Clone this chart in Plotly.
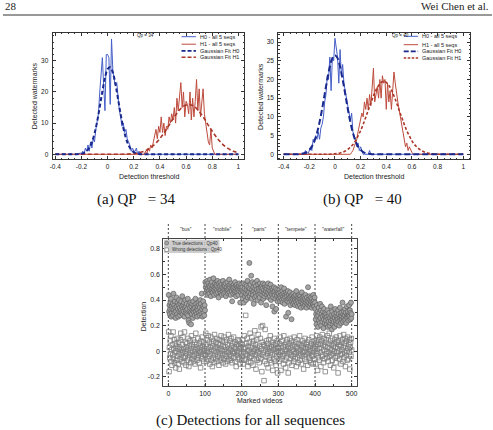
import numpy as np
import plotly.graph_objects as go

W, H = 493, 430

# ---------------- data: histograms (bin width 0.01) ----------------
A_H0_START = -0.22
A_H0 = [0, 0.5, 0, 1, 0, 2, 1, 3, 1, 4, 2, 5, 4, 8, 10, 13, 20, 25, 31, 22,
        14, 32, 32, 31, 16, 37, 27, 24, 22, 23, 18, 14, 12, 9, 10, 7, 8, 5, 4, 3,
        1, 2, 1, 1, 2, 0, 1, 0]
A_H1_START = 0.28
A_H1 = [0, 1, 0, 2, 1, 3, 2, 4, 6, 8, 5, 9, 7, 12, 7, 10, 6, 9, 8, 12,
        10, 13, 11, 15, 10, 18, 14, 19, 23, 15, 20, 12, 17, 16, 13, 20, 11, 18, 12, 17,
        24, 14, 21, 12, 18, 21, 13, 10, 7, 4, 3, 8, 2, 1, 0]
B_H0_START = -0.24
B_H0 = [0, 1, 0, 0, 1, 2, 1, 4, 3, 5, 4, 6, 4, 7, 8, 10, 14, 16, 21, 20,
        26, 17, 26, 25, 31, 29, 26, 19, 28, 21, 24, 19, 17, 15, 14, 11, 9, 11, 6, 5,
        4, 2, 3, 1, 2, 1, 0, 0, 0, 0, 0, 1, 0]
B_H1_START = 0.12
B_H1 = [0, 0.5, 1, 2, 3, 4, 6, 8, 9, 11, 10, 14, 12, 15, 12, 16, 13, 17, 23, 14,
        16, 18, 15, 20, 15, 21, 19, 20, 12, 19, 14, 17, 12, 18, 22, 19, 16, 14, 12, 10,
        8, 7, 5, 2, 3, 1, 2, 1, 0.5, 0]

# ---------------- data: Gaussian fits (sampled every 0.02) ----------------
A_FIT0_START = -0.24
A_FIT0 = [0.02, 0.07, 0.19, 0.46, 1.02, 2.08, 3.9, 6.7, 10.5, 15.2,
          20.2, 24.5, 27.3, 27.9, 26.2, 22.5, 17.7, 12.8, 8.5, 5.2,
          2.9, 1.48, 0.69, 0.30, 0.12, 0.04]
A_FIT1_START = 0.10
A_FIT1 = [0.03, 0.04, 0.07, 0.10, 0.16, 0.24, 0.36, 0.52, 0.74, 1.02,
          1.40, 1.88, 2.48, 3.20, 4.06, 5.06, 6.18, 7.40, 8.70, 10.0,
          11.4, 12.6, 13.7, 14.7, 15.4, 15.8, 16.0, 15.8, 15.4, 14.7,
          13.7, 12.6, 11.4, 10.0, 8.7, 7.4, 6.2, 5.1, 4.1, 3.2,
          2.5, 1.9, 1.4, 1.0, 0.74, 0.52]
B_FIT0_START = -0.28
B_FIT0 = [0.06, 0.13, 0.29, 0.60, 1.17, 2.1, 3.6, 5.7, 8.6, 12.1,
          16.1, 20.0, 23.4, 25.7, 26.5, 25.7, 23.4, 20.0, 16.1, 12.1,
          8.6, 5.7, 3.6, 2.1, 1.17, 0.60, 0.29, 0.13, 0.06]
B_FIT1_START = -0.02
B_FIT1 = [0.08, 0.13, 0.22, 0.35, 0.56, 0.86, 1.3, 1.9, 2.6, 3.6,
          4.9, 6.3, 8.0, 9.9, 11.8, 13.8, 15.6, 17.2, 18.4, 19.2,
          19.5, 19.2, 18.4, 17.2, 15.6, 13.8, 11.8, 9.9, 8.0, 6.3,
          4.9, 3.6, 2.6, 1.9, 1.3, 0.86, 0.56, 0.35, 0.22, 0.13, 0.08]

# ---------------- data: detections per marked video (x 0.01) ----------------
SEQUENCES = ['"bus"', '"mobile"', '"paris"', '"tempete"', '"waterfall"']
TRUE_DET = {
    "bus": [44,31,36,29,33,38,41,27,35,30, 33,37,28,45,32,36,30,39,34,26,
            31,42,35,29,38,33,27,36,40,31, 34,28,37,32,39,30,35,43,29,33,
            36,31,38,27,34,40,30,35,32,37, 29,33,41,28,24,36,22,31,34,38,
            30,21,35,29,37,32,26,39,33,30, 36,28,34,41,31,37,29,33,27,35,
            32,38,30,36,28,34,40,31,37,29, 45,33,27,35,39,30,34,28,36,32],
    "mobile": [54,50,46,52,48,55,44,49,53,47, 51,45,50,56,48,43,52,47,54,49,
               46,51,57,48,44,50,53,47,49,52, 45,51,48,55,46,50,42,53,49,47,
               51,54,46,48,52,44,50,47,55,49, 45,52,48,51,46,53,43,49,50,47,
               54,48,45,51,49,56,46,50,52,44, 48,53,47,39,51,49,45,52,48,50,
               46,54,47,51,43,49,52,46,50,48, 44,51,47,53,49,38,50,46,52,48],
    "paris": [44,50,41,47,53,38,46,49,43,52, 45,40,48,51,44,55,42,47,50,46,
              69,43,49,52,45,59,41,48,54,46, 44,50,37,47,53,42,49,45,51,43,
              48,55,40,46,52,44,49,47,42,53, 45,50,38,47,51,44,49,53,41,46,
              48,43,52,45,50,47,36,49,44,51, 46,53,42,48,45,50,43,47,52,40,
              45,49,44,35,48,42,46,50,31,44, 47,41,49,33,45,43,48,39,46,42],
    "tempete": [45,41,48,43,39,46,42,50,44,40, 47,38,43,45,41,49,37,44,42,46,
                27,40,45,43,39,47,30,41,44,38, 42,46,36,43,40,25,44,39,41,37,
                45,42,38,43,40,36,44,39,47,41, 37,43,40,35,42,38,44,41,36,43,
                39,34,41,46,38,42,37,40,35,43, 39,41,36,44,38,40,34,42,37,39,
                50,36,41,38,43,35,40,37,42,39, 34,41,38,36,44,37,40,35,42,38],
    "waterfall": [33,25,29,21,36,27,31,19,28,34, 24,30,22,37,26,32,20,29,35,23,
                  27,31,18,25,33,28,22,30,26,24, 29,21,27,32,19,25,23,28,30,20,
                  26,22,35,24,28,17,31,25,21,27, 23,29,19,26,33,22,28,24,30,21,
                  27,25,32,23,29,20,26,34,24,28, 22,30,25,27,38,23,29,26,31,24,
                  28,33,25,30,22,27,35,26,29,31, 24,28,36,27,32,25,30,38,26,29],
}
WRONG_DET = {
    "bus": [15,-16,3,-5,8,-2,12,-8,1,-11, 5,-3,15,-6,2,9,-9,-1,6,-13,
            0,4,-7,10,-4,2,-10,7,-2,-14, 3,-6,9,14,-3,1,-8,5,-1,11,
            -5,2,-9,15,0,-4,7,-11,3,-2, 6,-7,1,10,-5,-12,4,-3,8,-1,
            -9,2,12,-6,5,-3,0,9,-8,3, -4,7,-10,1,14,-2,5,-7,2,-5,
            10,-3,0,-9,6,-1,3,-13,8,-4, 1,11,-6,4,-2,7,-8,2,0,-3],
    "mobile": [-3,14,5,-8,2,-1,9,-6,12,0, -4,7,-10,3,-2,11,-7,1,6,-12,
               4,-5,8,0,-9,13,-3,2,-6,7, -1,10,-8,3,-4,6,1,-11,9,-2,
               5,-7,2,12,-5,0,8,-3,-9,4, -6,11,1,-2,7,-10,3,-4,9,0,
               -8,5,-1,13,-6,2,-3,8,-7,1, 10,-4,4,-9,0,6,-2,11,-5,3,
               -1,7,-8,2,-12,5,0,-3,9,-6, 4,-1,8,-5,2,-10,6,-2,3,-7],
    "paris": [5,-4,9,-10,2,-1,12,-7,3,-2, 28,-6,6,-3,10,0,-12,4,-8,1,
              7,-5,14,-1,-9,3,-4,11,-2,6, -11,0,8,-6,2,16,-3,5,-14,1,
              9,-7,3,-1,13,-5,0,-9,4,-2, 10,-6,19,2,-16,7,20,-3,-1,5,
              -23,4,-8,17,1,-4,8,-10,3,-2, 6,-13,0,9,-5,2,-7,12,-1,4,
              -9,3,-3,7,-15,1,5,-6,10,-2, -8,2,6,-11,0,-4,8,-17,3,-1],
    "tempete": [2,-8,6,-3,11,-1,-15,4,-6,0, 8,-4,3,-10,12,-2,5,-7,1,-13,
                7,0,-5,9,-2,4,-17,2,-9,6, -1,10,-6,3,-3,8,-11,1,5,-4,
                0,-8,11,-2,4,-6,7,-1,-12,3, 9,-5,2,-9,6,0,-3,12,-7,1,
                -2,5,-10,4,-4,8,-1,3,-14,6, 0,-6,10,-3,2,-8,5,-1,7,-11,
                3,-2,9,-5,1,-7,4,0,-9,6, -3,11,-4,2,-10,5,-1,8,-6,2],
    "waterfall": [4,-10,7,-2,12,0,-15,5,-5,9, 2,-7,11,-1,6,-12,3,8,-4,13,
                  -3,5,-9,1,10,-6,4,-16,7,-2, 9,0,-5,12,3,-8,6,-1,14,-4,
                  2,-11,8,-3,5,1,-7,10,-2,4, -13,6,0,9,-5,3,-9,11,-1,7,
                  -4,2,-17,8,0,5,-6,12,-3,4, -10,7,1,-2,9,-8,3,13,-5,6,
                  -1,10,-12,4,-3,8,0,-7,11,2, -6,5,-1,9,-14,3,7,-4,10,1],
}
SEQ_BOUNDS = [0, 100, 200, 300, 400, 500]

X_TICKS_AB = [-0.4, -0.2, 0, 0.2, 0.4, 0.6, 0.8, 1]
X_TICKTEXT_AB = ["-0.4", "-0.2", "0", "0.2", "0.4", "0.6", "0.8", "1"]
Y_TICKS_A = [0, 10, 20, 30]
Y_TICKS_B = [0, 5, 10, 15, 20, 25, 30]
X_TICKS_C = [0, 100, 200, 300, 400, 500]
Y_TICKS_C = [-0.2, 0, 0.2, 0.4, 0.6, 0.8]
Y_TICKTEXT_C = ["-0.2", "0", "0.2", "0.4", "0.6", "0.8"]

# ---------------- helpers ----------------
def px(x):
    return x / W

def py(y):
    return 1 - y / H

def full_series(start, step, vals, lo=-0.4, hi=1.0):
    n = int(round((hi - lo) / step)) + 1
    x = np.round(lo + step * np.arange(n), 3)
    y = np.zeros(n)
    i0 = int(round((start - lo) / step))
    y[i0:i0 + len(vals)] = vals
    return x, y

SANS = "Liberation Sans, Arial, sans-serif"
SERIF = "Liberation Serif, Times New Roman, serif"
C_H0 = "rgb(70,95,200)"
C_H1 = "rgb(190,75,60)"
C_F0 = "rgb(25,40,140)"
C_F1 = "rgb(170,55,40)"
AXC = "#333333"

fig = go.Figure()

def add_panel(xa, ya, h0s, h0, h1s, h1, f0s, f0, f1s, f1, dash0, dash1):
    x, y = full_series(h0s, 0.01, h0)
    fig.add_trace(go.Scatter(x=x, y=y, mode="lines", line=dict(color=C_H0, width=1),
                             xaxis=xa, yaxis=ya, showlegend=False))
    x, y = full_series(h1s, 0.01, h1)
    fig.add_trace(go.Scatter(x=x, y=y, mode="lines", line=dict(color=C_H1, width=1),
                             xaxis=xa, yaxis=ya, showlegend=False))
    x, y = full_series(f1s, 0.02, f1)
    fig.add_trace(go.Scatter(x=x, y=y, mode="lines", line=dict(color=C_F1, width=1.6, dash=dash1, shape="spline"),
                             xaxis=xa, yaxis=ya, showlegend=False))
    x, y = full_series(f0s, 0.02, f0)
    fig.add_trace(go.Scatter(x=x, y=y, mode="lines", line=dict(color=C_F0, width=2, dash=dash0, shape="spline"),
                             xaxis=xa, yaxis=ya, showlegend=False))

add_panel("x", "y", A_H0_START, A_H0, A_H1_START, A_H1, A_FIT0_START, A_FIT0, A_FIT1_START, A_FIT1,
          "4px,2.5px", "4px,2.5px")
add_panel("x2", "y2", B_H0_START, B_H0, B_H1_START, B_H1, B_FIT0_START, B_FIT0, B_FIT1_START, B_FIT1,
          "6px,3px", "3px,2px")

# panel (c)
videos = np.arange(1, 501)
keys = ["bus", "mobile", "paris", "tempete", "waterfall"]
true_vals = np.concatenate([np.array(TRUE_DET[k]) / 100 for k in keys])
wrong_vals = np.concatenate([np.array(WRONG_DET[k]) / 100 for k in keys])
fig.add_trace(go.Scatter(x=videos, y=wrong_vals, mode="markers", xaxis="x3", yaxis="y3", showlegend=False,
                         marker=dict(symbol="square-open", size=4.5, color="rgb(125,125,125)",
                                     line=dict(width=0.8, color="rgb(125,125,125)"))))
fig.add_trace(go.Scatter(x=videos, y=true_vals, mode="markers", xaxis="x3", yaxis="y3", showlegend=False,
                         marker=dict(symbol="circle", size=5, color="rgb(165,165,165)",
                                     line=dict(width=0.7, color="rgb(95,95,95)"))))

tickfont = dict(family=SANS, size=6.5, color="#222")

def ab_axes(xdom, ydom, xrange, yrange, yticks, ydt_minor):
    xa = dict(domain=xdom, range=xrange, tickvals=X_TICKS_AB, ticktext=X_TICKTEXT_AB,
              ticks="inside", ticklen=3, tickcolor=AXC, tickwidth=0.8,
              minor=dict(dtick=0.05, ticks="inside", ticklen=1.5, tickcolor=AXC, tickwidth=0.6),
              showline=True, linecolor=AXC, linewidth=1, mirror="ticks", showgrid=False,
              zeroline=False, tickfont=tickfont, ticklabelstandoff=1)
    ya = dict(domain=ydom, range=yrange, tickvals=yticks,
              ticks="inside", ticklen=3, tickcolor=AXC, tickwidth=0.8,
              minor=dict(dtick=ydt_minor, ticks="inside", ticklen=1.5, tickcolor=AXC, tickwidth=0.6),
              showline=True, linecolor=AXC, linewidth=1, mirror="ticks", showgrid=False,
              zeroline=False, tickfont=tickfont, ticklabelstandoff=2)
    return xa, ya

xa1, ya1 = ab_axes([px(50), px(243)], [py(159.3), py(32.7)], [-0.4205, 1.043], [-1.6, 39.0], Y_TICKS_A, 2)
xa2, ya2 = ab_axes([px(277.5), px(471)], [py(159.3), py(32.7)], [-0.442, 1.054], [-1.34, 32.5], Y_TICKS_B, 1)
xa2["anchor"] = "y2"
ya2["anchor"] = "x2"
xa1["anchor"] = "y"
ya1["anchor"] = "x"

xa3 = dict(domain=[px(161.7), px(356.7)], range=[-13.5, 514], tickvals=X_TICKS_C, anchor="y3",
           ticks="inside", ticklen=3, tickcolor=AXC, tickwidth=0.8,
           minor=dict(dtick=50, ticks="inside", ticklen=1.5, tickcolor=AXC),
           showline=True, linecolor="#444", linewidth=1.2, mirror="ticks", showgrid=False,
           zeroline=False, tickfont=dict(family=SANS, size=7, color="#222"), ticklabelstandoff=0)
ya3 = dict(domain=[py(386), py(239)], range=[-0.272, 0.877], tickvals=Y_TICKS_C, ticktext=Y_TICKTEXT_C,
           anchor="x3", ticks="inside", ticklen=3, tickcolor=AXC, tickwidth=0.8,
           minor=dict(dtick=0.1, ticks="inside", ticklen=1.5, tickcolor=AXC),
           showline=True, linecolor="#444", linewidth=1.2, mirror="ticks", showgrid=False,
           zeroline=False, tickfont=dict(family=SANS, size=7, color="#222"), ticklabelstandoff=1)

shapes = []
annotations = []

# header
shapes.append(dict(type="line", xref="paper", yref="paper", x0=0, x1=1, y0=py(15), y1=py(15),
                   line=dict(color="#333", width=1)))
annotations.append(dict(text="28", x=px(0), y=py(6), xref="paper", yref="paper", xanchor="left",
                        yanchor="middle", showarrow=False, font=dict(family=SERIF, size=11, color="#222")))
annotations.append(dict(text="Wei Chen et al.", x=px(492), y=py(6), xref="paper", yref="paper", xanchor="right",
                        yanchor="middle", showarrow=False, font=dict(family=SERIF, size=11, color="#222")))

# captions
NB = "\u00a0"
for txt, cx, cy in [("(a) QP" + NB * 3 + "= 34", 135, 200), ("(b) QP" + NB * 3 + "= 40", 362, 200),
                    ("(c) Detections for all sequences", 249.5, 420)]:
    annotations.append(dict(text=txt, x=px(cx), y=py(cy), xref="paper", yref="paper", xanchor="center",
                            yanchor="middle", showarrow=False, font=dict(family=SERIF, size=15, color="#111")))

# axis titles
def axtitle(txt, cx, cy, angle=0, size=7):
    annotations.append(dict(text=txt, x=px(cx), y=py(cy), xref="paper", yref="paper", xanchor="center",
                            yanchor="middle", showarrow=False, textangle=angle,
                            font=dict(family=SANS, size=size, color="#222")))

axtitle("Detection threshold", 147, 176)
axtitle("Detected watermarks", 31.5, 96, -90)
axtitle("Detection threshold", 374, 176)
axtitle("Detected watermarks", 259, 96, -90)
axtitle("Marked videos", 259, 400)
axtitle("Detection", 141.5, 316, -90)
axtitle("Qp = 34", 144, 35.5, size=4.5)
axtitle("Qp = 40", 400.5, 36, size=4.5)

# legends of (a) and (b)
LEG = [("H0 - all 5 seqs", C_H0, 1, "solid"), ("H1 - all 5 seqs", C_H1, 1, "solid"),
       ("Gaussian Fit H0", C_F0, 1.8, "dash"), ("Gaussian Fit H1", C_F1, 1.6, "dash")]
for (lx0, lx1, tx, rows, dashes) in [(180, 194.5, 196.5, [36.7, 44.2, 50.8, 57.2], ["solid", "solid", "4px,2px", "4px,2px"]),
                                      (404, 418.5, 420.5, [36.3, 44.7, 51.3, 58.0], ["solid", "solid", "5px,2px", "2.5px,1.5px"])]:
    for (label, col, wd, _), ry, dsh in zip(LEG, rows, dashes):
        shapes.append(dict(type="line", xref="paper", yref="paper", x0=px(lx0), x1=px(lx1), y0=py(ry), y1=py(ry),
                           line=dict(color=col, width=wd, dash=dsh)))
        annotations.append(dict(text=label, x=px(tx), y=py(ry), xref="paper", yref="paper", xanchor="left",
                                yanchor="middle", showarrow=False, font=dict(family=SANS, size=5.5, color="#222")))

# panel (c): sequence separators and labels
for b in SEQ_BOUNDS:
    shapes.append(dict(type="line", xref="x3", yref="paper", x0=b, x1=b, y0=py(386), y1=py(222),
                       line=dict(color="#333", width=0.9, dash="2px,2px"), layer="below"))
for i, name in enumerate(SEQUENCES):
    mid = (SEQ_BOUNDS[i] + SEQ_BOUNDS[i + 1]) / 2 - 2
    annotations.append(dict(text=name, x=mid, y=py(229), xref="x3", yref="paper", xanchor="center",
                            yanchor="middle", showarrow=False, font=dict(family=SANS, size=5, color="#333")))

# legend of (c)
shapes.append(dict(type="rect", xref="paper", yref="paper", x0=px(162.3), x1=px(218.3), y0=py(253), y1=py(239.7),
                   fillcolor="rgb(205,205,205)", line=dict(width=0)))
shapes.append(dict(type="circle", xref="paper", yref="paper", x0=px(163), x1=px(167), y0=py(245), y1=py(241),
                   fillcolor="rgb(165,165,165)", line=dict(color="rgb(95,95,95)", width=0.6)))
shapes.append(dict(type="rect", xref="paper", yref="paper", x0=px(163.2), x1=px(166.8), y0=py(251.5), y1=py(247.9),
                   fillcolor="white", line=dict(color="rgb(125,125,125)", width=0.7)))
annotations.append(dict(text="True detections : Qp40", x=px(168.5), y=py(243), xref="paper", yref="paper",
                        xanchor="left", yanchor="middle", showarrow=False,
                        font=dict(family=SANS, size=4.5, color="#333")))
annotations.append(dict(text="Wrong detections : Qp40", x=px(168.5), y=py(249.7), xref="paper", yref="paper",
                        xanchor="left", yanchor="middle", showarrow=False,
                        font=dict(family=SANS, size=4.5, color="#333")))

fig.update_layout(
    width=W, height=H, margin=dict(l=0, r=0, t=0, b=0),
    paper_bgcolor="white", plot_bgcolor="white",
    xaxis=xa1, yaxis=ya1, xaxis2=xa2, yaxis2=ya2, xaxis3=xa3, yaxis3=ya3,
    shapes=shapes, annotations=annotations, showlegend=False,
)

fig.write_html("out.html")
